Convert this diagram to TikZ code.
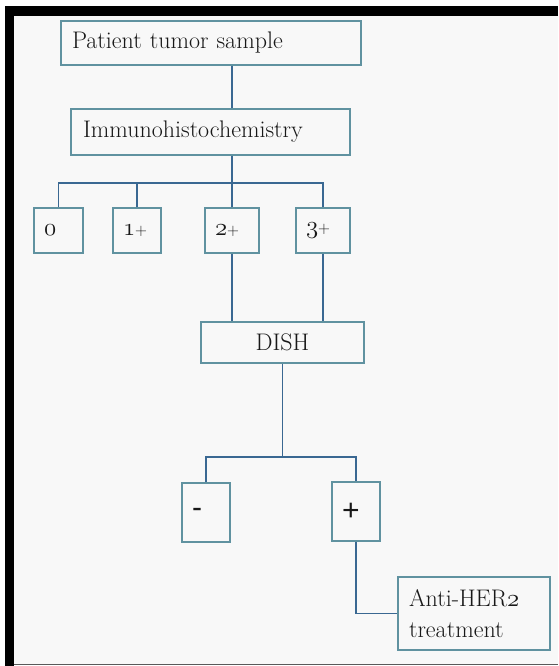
\documentclass[tikz,border=0pt]{standalone}
\usepackage{fontspec}
\newfontfamily\signfont{Liberation Sans}
% old-style figures taken from Latin Modern math italic
\newcommand\osf[1]{{\usefont{OML}{lmm}{m}{it}#1}}
% the plus sign of the score labels is set smaller than the figures
\newcommand\scoreplus{{\fontsize{16.5}{18}\selectfont +}}
\definecolor{boxline}{RGB}{96,146,160}
\definecolor{wire}{RGB}{58,104,146}
\definecolor{ink}{RGB}{24,24,24}
\definecolor{paper}{RGB}{248,248,248}
\tikzset{
  flowbox/.style={draw=boxline, line width=1.2pt, fill=paper, rectangle,
    text=ink, align=left, inner ysep=0pt, font=\fontsize{24}{31}\selectfont},
  scorebox/.style={flowbox, inner xsep=10pt, font=\fontsize{25}{28}\selectfont},
  signbox/.style={flowbox, inner xsep=10pt, font=\signfont\fontsize{30}{34}\selectfont},
  wireline/.style={draw=wire, line width=1.1pt},
}
\begin{document}
\begin{tikzpicture}[x=1pt, y=-1pt]
  \useasboundingbox (0,0) rectangle (558,666);
  % sheet and its frame
  \fill[paper] (14,16) rectangle (558,664);
  \fill[black] (5,6) rectangle (558,16);
  \fill[black] (5,6) rectangle (14,666);
  \draw[gray!70!black, line width=1.2pt] (14,664.5) -- (558,664.5);

  % boxes
  \node[flowbox, inner xsep=11pt, text width=278pt, minimum height=44pt] (patient) at (211,43) {Patient tumor sample};
  \node[flowbox, inner xsep=12pt, text width=255pt, minimum height=46pt] (ihc) at (210.5,132) {Immunohistochemistry};

  \node[scorebox, text width=29pt, minimum height=45pt] (s0) at (58.5,230.5) {\osf{0}};
  \node[scorebox, text width=28pt, minimum height=45pt] (s1) at (137,230.5) {\osf{1}\scoreplus};
  \node[scorebox, text width=34pt, minimum height=45pt] (s2) at (232,230.5) {\osf{2}\scoreplus};
  \node[scorebox, text width=34pt, minimum height=45pt] (s3) at (323,230.5) {\osf{3}\scoreplus};

  \node[flowbox, align=center, inner xsep=0pt, text width=163pt, minimum height=41pt] (dish) at (282.5,342.5) {DISH};

  \node[signbox, text width=28pt, minimum height=59pt] (neg) at (206,512.5) {-};
  \node[signbox, text width=28pt, minimum height=59pt] (pos) at (356,511.5) {+};

  \node[flowbox, inner xsep=11pt, text width=130pt, minimum height=73pt] (anti) at (474,613.5) {Anti-HER\osf{2}\\treatment};

  % connectors
  \coordinate (busA) at (232,183);
  \coordinate (busB) at (282.5,457);
  \draw[wireline] (busA |- patient.south) -- (busA |- ihc.north);
  \draw[wireline] (busA |- ihc.south) -- (busA);
  \draw[wireline] (s0.north) |- (busA) -| (s3.north);
  \draw[wireline] (s1.north) -- (s1.north |- busA);
  \draw[wireline] (s2.north) -- (busA);
  \draw[wireline] (s2.south) -- (s2.south |- dish.north);
  \draw[wireline] (s3.south) -- (s3.south |- dish.north);
  \draw[wireline] (dish.south) -- (busB);
  \draw[wireline] (neg.north) |- (busB) -| (pos.north);
  \draw[wireline] (pos.south) |- (anti.west);
\end{tikzpicture}
\end{document}
